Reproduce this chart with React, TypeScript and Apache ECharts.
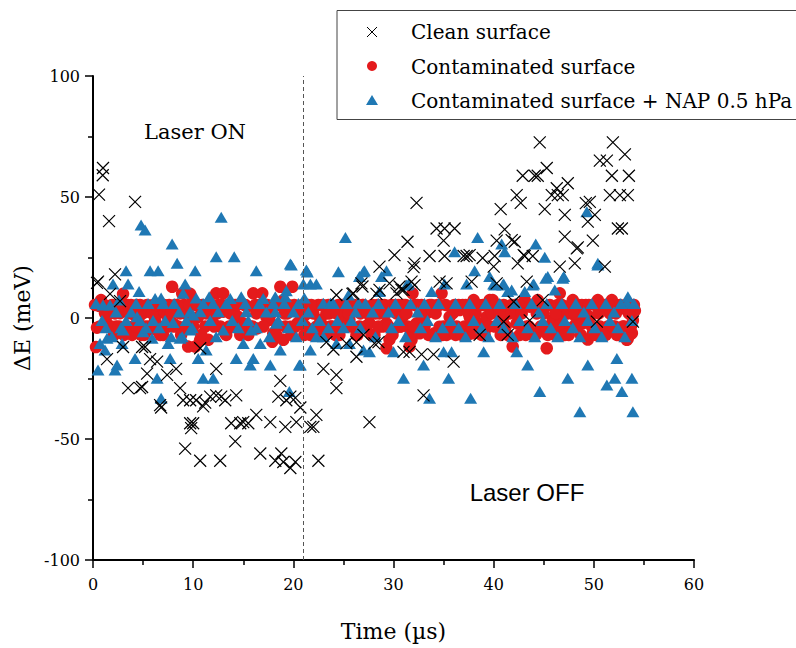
import React, { useEffect, useRef } from "react";
import * as echarts from "echarts";

// ---------- data ----------
const seriesNames = [
  "Clean surface",
  "Contaminated surface",
  "Contaminated surface + NAP 0.5 hPa",
];
const xRange = [0, 60];
const yRange = [-100, 100];
const laserSwitchTime = 21; // µs, dashed vertical line

// [time µs, ΔE meV]
const cleanSurface: number[][] = [
  [0.4, 14.5], [0.5, 15], [0.6, 51], [1.0, 62], [0.97, 59], [1.6, 40], [4.2, 48], [2.2, 18],
  [1.7, 10], [2.7, 7], [3.0, -12], [4.9, -12], [1.4, -17], [5.2, -12], [5.7, -17], [6.4, -18],
  [5.4, -23], [7.4, -23.5], [8.3, -21], [12.3, -21], [3.5, -29], [4.7, -29], [4.9, -28.5],
  [6.7, -36], [6.8, -37], [8.7, -29], [9.0, -34], [9.7, -34], [10.3, -34], [11.0, -36.5],
  [11.2, -35], [11.7, -32.5], [12.3, -32], [12.8, -32.5], [13.2, -34], [14.3, -32],
  [9.7, -43.5], [10.0, -43.5], [9.8, -45.5], [9.2, -54], [10.7, -59], [12.7, -59], [14.2, -51],
  [13.8, -43.5], [14.7, -43.5], [15.0, -43], [15.5, -43.5], [16.3, -40], [17.7, -43], [19.2, -45],
  [18.7, -26], [18.5, -32.5], [19.3, -34], [19.7, -32.5], [20.2, -33], [20.7, -37], [20.3, -43],
  [16.7, -56], [18.2, -59], [18.8, -56], [19.0, -59.5], [19.7, -62], [20.2, -59.5], [21.7, -45],
  [22.0, -45], [22.3, -40], [22.5, -59], [23.0, -21], [24.3, -23.5], [24.3, -29], [25.3, -10.5],
  [25.9, 10], [26.9, 13], [26.3, -16], [27.0, -7], [27.6, -43], [10.7, -12.5], [24.3, 9.5],
  [28.3, 10], [28.6, 11.6], [29.6, 14.3], [23.3, -10], [24.0, -13], [26.3, -10], [26.8, 14.3],
  [26.0, 10.2], [28.5, -10], [30.6, 13], [31.0, 11.6], [30.3, 10.2], [30.1, 26], [32.1, 22.6],
  [28.6, 21.2], [31.4, 31.5], [32.3, 47.6], [34.3, 37], [35.1, 37], [36.1, 37], [35.0, 32],
  [33.6, 25.6], [35.1, 25.6], [37.0, 25.6], [37.3, 25.6], [34.6, 15], [31.8, 15], [37.8, 15],
  [30.8, 11.6], [32.8, -15], [34.0, -15], [36.0, -18], [33.0, -32], [28.1, -10.5], [31.0, -14],
  [31.6, -14], [32.1, 13.6], [35.3, 14.3], [40.3, 14.3], [38.6, -7], [41.0, -1.5], [42.0, 6.7],
  [41.4, -7], [43.6, -1], [44.9, 7.4], [50.3, -1.5], [53.9, -1.5], [40.1, 25.6], [43.1, 25.6],
  [43.9, 25.6], [40.0, 21.2], [42.4, 22.6], [43.0, 26], [37.6, 26], [43.3, 15], [46.6, 21.2],
  [48.1, 22.6], [51.1, 21.2], [40.3, 32], [41.8, 32.2], [42.1, 31.5], [41.1, 36.6], [40.7, 45],
  [45.1, 45], [47.1, 42.6], [50.1, 42.6], [49.4, 39.8], [47.1, 33.6], [49.9, 32], [48.4, 29.2],
  [48.3, 28.8], [52.4, 37], [52.8, 37], [42.3, 50.8], [42.7, 47.6], [45.8, 50.8], [46.4, 50.8],
  [46.9, 50.8], [46.3, 53.6], [47.4, 55.7], [49.6, 48], [49.2, 47.5], [51.6, 50.8], [52.6, 50.8],
  [53.4, 50.8], [42.9, 58.8], [44.1, 58.8], [44.4, 58.8], [45.3, 62], [44.6, 72.6], [51.8, 58.8],
  [53.5, 58.8], [50.6, 65], [51.3, 65], [51.9, 72.6], [53.1, 67.6], [32.0, 21], [38.9, 24.8],
];

const contaminatedSurface: number[][] = [
  [0.3, -12], [0.4, -4], [0.6, 5], [0.8, 7.4], [1.0, -3.5], [1.2, 2], [1.5, -3], [1.7, 2],
  [1.9, 5.4], [2.1, -7], [2.3, -3.5], [2.5, 5.4], [2.7, 2], [2.9, -6.3], [3.0, 10], [3.2, 5.4],
  [3.4, -3.5], [3.6, 2], [3.8, 5.4], [4.0, -3.5], [4.2, 1], [4.4, 5.4], [4.6, 0.5], [4.8, -7],
  [5.0, 2], [5.2, -3.5], [5.4, 5.4], [5.6, 2.6], [5.8, -4.8], [6.0, 5.4], [6.2, -1], [6.4, 2],
  [6.6, -3.5], [6.8, 5.4], [7.0, -7], [7.2, 2], [7.4, 0.9], [7.6, 5.4], [7.9, 12.9], [8.0, -2.2],
  [8.2, 5.4], [8.5, -3.5], [8.7, 1.9], [8.9, 10.2], [9.1, 5.4], [9.3, -3.5], [9.5, -11.8],
  [9.7, 10], [9.9, -2.2], [10.1, 5.4], [10.2, -11.8], [10.5, 0.5], [10.7, -9], [10.9, 5.4],
  [11.0, 4.7], [11.2, -3.5], [11.5, -9], [11.7, 2], [11.9, 5.4], [12.0, -2.2], [12.3, 10.2],
  [12.5, 5.4], [12.7, -3.5], [13.0, 10.2], [13.0, 2.6], [13.2, -6.3], [13.5, 5.4], [13.7, 1.9],
  [14.0, -3.6], [14.2, 5.4], [14.5, 0.5], [14.8, -3.5], [15.0, -2.2], [15.2, 5.4], [15.4, 4.7],
  [15.7, -3.5], [16.0, 10.2], [16.2, 5.4], [16.4, -4.3], [16.7, 2.6], [16.9, 10.2], [17.1, 5.4],
  [17.3, 0.5], [17.6, -0.8], [17.9, -9.8], [18.0, -6.3], [18.2, 5.4], [18.4, -3.5], [18.7, 12.9],
  [19.0, 7.4], [19.0, -9], [19.2, -3.5], [19.4, 1.9], [19.7, -3.6], [19.9, 12.9], [20.1, 5.4],
  [20.4, -2.2], [20.7, 3.3], [20.9, 5.4], [21.0, 0.5], [21.2, -3.5], [21.5, 5.4], [21.7, -7],
  [22.0, 1.9], [22.3, -3.6], [22.5, 5.4], [22.7, -0.8], [23.0, -3.5], [23.3, 1.9], [23.5, 5.4],
  [23.7, -3.5], [24.0, 3.3], [24.2, -7], [24.5, 5.4], [24.7, -3.5], [25.0, 0.5], [25.3, 5.4],
  [25.6, -0.8], [25.8, -3.5], [26.1, 5.4], [26.4, -7], [26.7, 1.9], [26.9, 5.4], [27.2, -3.5],
  [27.6, -2.2], [27.9, 5.4], [28.1, -7], [28.4, 5.4], [28.6, 1.9], [28.9, -3.5], [29.1, 5.4],
  [29.3, -12.5], [29.3, -2.2], [29.6, -8.9], [29.8, 5.4], [30.0, -4.8], [30.3, 1.9], [30.5, 5.4],
  [30.7, -3.5], [30.9, 0.5], [31.2, 5.4], [31.4, -3.5], [31.6, -11.8], [31.8, -9], [31.9, 10.2],
  [32.1, 5.4], [32.3, -2.2], [32.6, -6.3], [32.8, 5.4], [33.0, -2.2], [33.3, 1.9], [33.6, 5.4],
  [33.9, 3.3], [34.1, -6.3], [34.4, 5.4], [34.6, -3.6], [34.8, 10.2], [35.0, -3.5], [35.3, -7],
  [35.6, 0.5], [35.8, -5], [36.1, 5.4], [36.3, -3.5], [36.6, 3.3], [36.9, 5.4], [37.1, -3.5],
  [37.4, -7], [37.6, 0.5], [37.9, 5.4], [38.0, 7.4], [38.0, -6.3], [38.3, -3.5], [38.6, -2.2],
  [38.9, 5.4], [39.1, -7], [39.3, 0.5], [39.6, 7.4], [39.9, 7.4], [40.1, -3.5], [40.4, 5.4],
  [40.7, -7], [40.9, 4.7], [40.9, -0.8], [41.2, -3.5], [41.6, 1.9], [41.9, -11.8], [42.1, 5.4],
  [42.3, -2.2], [42.6, -7], [42.9, -4.8], [43.1, 7.4], [43.3, -3.5], [43.6, 4.7], [43.9, -7],
  [44.3, 1.9], [44.3, -6.3], [44.4, 7.4], [44.7, -3.5], [44.9, 3.3], [45.2, -3.6], [45.3, -12.5],
  [45.6, 5.4], [45.9, -0.8], [46.1, -7], [46.4, 5.4], [46.6, 10.2], [46.6, 0.5], [46.9, -3.5],
  [47.2, 4.7], [47.5, -7], [47.9, 7.4], [48.0, -3.5], [48.2, 0.5], [48.5, 5.4], [48.7, -7],
  [48.9, -2.2], [49.2, 5.4], [49.4, -8.9], [49.6, 0.5], [49.9, -6.3], [50.1, 5.4], [50.4, 7.4],
  [50.6, -3.5], [50.9, -7], [51.1, 5.4], [51.4, -3.5], [51.6, 1.9], [51.8, 7.4], [52.1, -3.5],
  [52.3, -7], [52.6, 5.4], [52.8, 4], [53.0, -3.5], [53.3, -9], [53.4, -8.4], [53.6, 5.4],
  [53.8, -6.3], [53.9, -1], [54.1, 3],
  [0.2, 5.4], [0.7, -3.5], [1.1, 5.4], [1.4, 1], [1.8, -3.5], [2.2, 1.9], [2.6, -3.5], [3.1, -7],
  [3.5, 5.4], [3.9, -7], [4.3, -3.5], [4.7, 5.4], [5.1, -7], [5.5, -3.5], [5.9, 1.9], [6.3, 5.4],
  [6.7, -7], [7.1, 5.4], [7.5, -3.5], [7.8, 1.9], [8.1, -3.5], [8.4, 5.4], [8.8, -7], [9.2, 1.9],
  [9.6, 5.4], [10.0, -3.5], [10.4, 5.4], [10.8, -7], [11.3, 1.9], [11.6, 5.4], [12.1, -3.5],
  [12.4, 1.9], [12.9, 5.4], [13.3, -7], [13.6, -3.5], [14.1, 1.9], [14.4, 5.4], [14.7, -7],
  [15.1, 5.4], [15.5, -7], [15.9, -3.5], [16.3, 1.9], [16.6, 5.4], [17.0, -3.5], [17.4, 5.4],
  [17.8, 1.9], [18.3, -7], [18.6, 5.4], [19.1, 1.9], [19.5, 5.4], [19.8, -7], [20.2, -3.5],
  [20.6, 1.9], [21.1, -7], [21.4, 1.9], [21.8, 5.4], [22.2, -7], [22.6, -3.5], [22.9, 5.4],
  [23.2, -7], [23.6, 1.9], [23.9, -3.5], [24.3, 1.9], [24.6, -7], [24.9, 5.4], [25.2, -3.5],
  [25.5, 1.9], [25.9, 5.4], [26.3, -7], [26.6, -3.5], [27.0, 5.4], [27.4, 1.9], [27.8, -7],
  [28.2, 1.9], [28.5, -3.5], [28.8, 5.4], [29.2, 1.9], [29.5, -3.5], [29.9, -7], [30.2, 5.4],
  [30.6, -3.5], [31.0, 5.4], [31.3, 1.9], [31.7, -7], [32.0, -3.5], [32.4, 5.4], [32.7, 1.9],
  [33.1, -3.5], [33.5, -7], [33.8, 5.4], [34.2, 1.9], [34.6, 5.4], [34.9, -7], [35.2, 5.4],
  [35.5, -3.5], [35.9, 1.9], [36.2, -7], [36.5, 5.4], [36.8, -7], [37.2, 5.4], [37.5, 1.9],
  [37.8, -3.5], [38.2, 1.9], [38.5, 5.4], [38.8, -7], [39.2, 5.4], [39.5, -3.5], [39.8, 1.9],
  [40.2, 5.4], [40.6, 1.9], [41.0, 5.4], [41.4, -7], [41.8, 5.4], [42.2, 1.9], [42.5, 5.4],
  [42.8, 1.9], [43.2, -7], [43.5, -3.5], [43.9, 5.4], [44.2, -7], [44.6, 5.4], [45.0, 1.9],
  [45.4, -7], [45.8, -3.5], [46.2, 1.9], [46.5, -3.5], [46.8, 5.4], [47.1, -7], [47.4, 1.9],
  [47.7, 5.4], [48.1, 1.9], [48.4, -3.5], [48.8, 5.4], [49.1, 1.9], [49.5, 5.4], [49.8, -3.5],
  [50.2, -7], [50.5, 1.9], [50.8, 5.4], [51.2, -7], [51.5, 5.4], [51.9, -3.5], [52.2, 1.9],
  [52.5, -7], [52.9, -3.5], [53.2, 5.4], [53.5, 1.9], [53.7, -3.5], [54.0, 5.4],
];

const napSurface: number[][] = [
  // outliers, early part
  [4.8, 38.4], [5.2, 36.4], [12.8, 41.6], [7.9, 30.6], [8.4, 22.6], [12.3, 25.3], [14.1, 25.3],
  [3.3, 19.5], [5.7, 19.5], [6.5, 19.5], [10.2, 19.5], [16.3, 19.5], [19.7, 22.3], [21.3, 19.8],
  [25.2, 33.3], [24.5, 19.1], [27.0, 19.1], [2.0, 14], [3.5, 14], [9.2, 14], [4.6, 10.9],
  [19.3, 11.3], [21.0, 14], [21.7, 14], [22.3, 14], [1.0, 5.4], [1.7, 5.4], [2.6, 7.4], [6.2, 8.1],
  [7.0, 6], [9.0, 10.2], [11.6, 8.8], [13.7, 8.1], [14.8, 8.8], [17.0, 8.1], [18.2, 8.8],
  [19.2, 8.8], [9.7, 2.6], [10.7, 2.6], [12.5, 2.6], [15.3, 2.6], [18.2, 2.6], [23.0, 6.1],
  [23.7, 6.1], [25.5, 9.5], [26.5, 6.1], [4.4, 0.5], [8.0, -1.9], [10.0, 1.2], [13.0, -5],
  [15.8, -5], [18.3, -2.2], [20.3, -7.7], [3.0, -5], [5.0, -5.7], [5.9, -8.4], [8.9, -7.7],
  [9.7, -5], [0.7, -10.5], [1.4, -8.4], [1.2, -13.2], [2.9, -10.5], [7.5, -10.5], [8.7, -8.4],
  [11.3, -13.2], [15.0, -10.5], [16.7, -10.5], [18.7, -13.2], [21.7, -13.2], [22.3, -7.7],
  [23.0, -7.7], [24.3, -10.5], [25.6, -10.5], [27.0, -13.2], [0.5, -21.5], [2.2, -21.5],
  [2.4, -19.4], [4.2, -16.7], [7.7, -16.7], [10.5, -16.7], [14.3, -16.7], [15.7, -19.4],
  [16.0, -16.7], [17.7, -19.4], [20.6, -19.4], [6.4, -24.9], [11.0, -24.9], [12.0, -24.9],
  [6.8, -33.2], [19.6, -30.4], [20.7, -19.4], [19.8, 21.9], [21.4, 19],
  // outliers, later part
  [49.3, 43.9], [38.4, 33.3], [36.1, 27.4], [40.8, 30.6], [41.1, 27.4], [44.2, 30.6], [45.1, 25.1],
  [50.4, 22.6], [38.1, 19.5], [39.6, 17.1], [45.4, 17.1], [47.0, 17.1], [29.3, 19.5], [27.1, 19.5],
  [31.5, 14], [35.1, 14], [37.3, 14], [40.0, 14], [41.0, 14], [41.8, 11.6], [44.0, 14], [46.1, 11.6],
  [28.8, 17.1], [53.4, 8.8], [53.3, 6.1], [27.6, -13.9], [30.0, -13.9], [35.0, -13.9], [35.8, -13.9],
  [39.0, -13.9], [42.3, -13.9], [33.0, -19.4], [43.4, -19.4], [49.4, -19.4], [52.3, -16.7],
  [31.0, -24.9], [35.5, -24.9], [47.4, -24.9], [51.3, -27.7], [52.1, -24.9], [53.8, -24.9],
  [33.6, -33.2], [37.7, -33.2], [44.6, -30.4], [52.8, -30.4], [48.6, -38.7], [53.9, -38.7],
  [26.6, 17.1], [28.6, 10.9], [31.3, 13.6], [33.8, 10.9], [40.1, 13.6], [40.9, 13.6], [41.4, 10.9],
  [43.1, 10.9], [43.9, 13.6], [45.2, 16.4], [46.9, 16.4], [50.4, 21.9],
  // central band
  [0.3, 6], [0.9, -1], [1.3, -4], [1.9, -7.7], [2.3, 2.5], [2.8, -4], [3.3, -1], [3.8, 2.5],
  [4.3, 6], [4.7, -1], [5.3, -4], [5.5, 6], [6.0, -1], [6.6, -4], [6.8, 8.3], [7.2, -1], [7.8, -7.7],
  [8.1, 6], [8.6, 2.5], [9.3, -1], [9.9, -4], [10.3, 8.3], [11.0, 6], [11.7, -1], [12.0, 6],
  [12.3, -7.7], [13.3, 6], [13.9, -1], [14.5, -4], [15.2, 6], [15.5, -1], [16.3, -4], [16.6, 6],
  [17.3, 2.5], [17.6, -7.7], [18.0, 6], [18.5, -1], [19.1, 6], [19.5, -4], [20.0, 2.5], [20.5, 6],
  [20.9, -1], [21.1, 8.3], [21.5, 2.5], [21.9, -4], [22.6, -1], [23.5, -4], [24.0, 6], [24.4, -1],
  [25.0, -4], [25.3, 6], [25.8, -1], [26.2, 2.5], [26.7, -4], [27.2, 6], [27.9, 2.5], [28.2, -7.7],
  [28.5, 6], [29.5, 2.5], [29.8, -4], [30.2, 6], [30.5, -1], [31.2, -7.7], [31.7, 6], [32.4, 2.5],
  [32.7, -4], [33.1, 6], [33.4, -1], [34.2, -7.7], [34.5, 6], [34.9, -4], [35.7, -1], [36.2, 6],
  [36.5, -4], [37.2, -7.7], [37.6, 6], [38.0, -1], [38.8, -4], [39.2, 6], [39.5, -7.7], [40.3, -1],
  [40.6, 6], [41.0, -4], [41.9, -7.7], [42.2, 6], [42.6, -1], [43.4, -4], [43.8, 6], [44.1, -7.7],
  [44.5, 2.5], [44.9, -1], [45.3, 6], [45.7, -4], [46.4, -7.7], [46.8, 6], [47.1, -1], [47.9, -4],
  [48.2, 6], [48.6, -7.7], [49.0, 2.5], [49.4, -1], [49.8, 6], [50.1, -4], [50.8, -7.7], [51.2, 6],
  [51.6, -1], [52.0, 2.5], [52.4, -4], [52.7, 6], [53.1, -7.7], [53.8, -1], [54.0, 6],
];

// ---------- styling ----------
const SERIF = "'DejaVu Serif', serif";
const SANS = "'Liberation Sans', Arial, sans-serif";
const RED = "#e41a1c";
const BLUE = "#1f78b4";
const CROSS = "path://M0,0L10,10M0,10L10,0";

export default function App() {
  const ref = useRef<HTMLDivElement>(null);

  useEffect(() => {
    if (!ref.current) return;
    const chart = echarts.init(ref.current, undefined, { renderer: "svg" });

    const axisCommon = {
      type: "value" as const,
      nameLocation: "middle" as const,
      nameTextStyle: { fontFamily: SERIF, fontSize: 22, color: "#000" },
      axisLine: { show: true, onZero: false, lineStyle: { color: "#000", width: 2 } },
      axisTick: { show: true, inside: false, length: 8, lineStyle: { color: "#000", width: 1.5 } },
      minorTick: { show: true, splitNumber: 2, length: 5, lineStyle: { color: "#000", width: 1.5 } },
      splitLine: { show: false },
      minorSplitLine: { show: false },
    };

    const legendY = [32, 67, 101];
    const lx = 372;

    const option: any = {
      animation: false,
      backgroundColor: "#fff",
      grid: { left: 93, right: 102, top: 76, bottom: 88 },
      xAxis: {
        ...axisCommon,
        min: xRange[0],
        max: xRange[1],
        interval: 10,
        name: "Time (µs)",
        nameGap: 60,
        axisLabel: { fontFamily: SERIF, fontSize: 16, color: "#000", margin: 16 },
      },
      yAxis: {
        ...axisCommon,
        min: yRange[0],
        max: yRange[1],
        interval: 50,
        name: "ΔE (meV)",
        nameGap: 59,
        axisLabel: { fontFamily: SERIF, fontSize: 16, color: "#000", margin: 13 },
      },
      series: [
        {
          name: seriesNames[1],
          type: "scatter",
          data: contaminatedSurface,
          symbol: "circle",
          symbolSize: 12.5,
          itemStyle: { color: RED, opacity: 1 },
          silent: true,
          z: 2,
          markLine: {
            silent: true,
            symbol: ["none", "none"],
            label: { show: false },
            lineStyle: { type: [4, 3], color: "#555", width: 1 },
            data: [{ xAxis: laserSwitchTime }],
          },
        },
        {
          name: seriesNames[2],
          type: "scatter",
          data: napSurface,
          symbol: "triangle",
          symbolSize: [13, 11],
          itemStyle: { color: BLUE, opacity: 1 },
          silent: true,
          z: 3,
        },
        {
          name: seriesNames[0],
          type: "scatter",
          data: cleanSurface,
          symbol: CROSS,
          symbolSize: 12,
          itemStyle: { color: "rgba(0,0,0,0)", borderColor: "#000", borderWidth: 1.2, opacity: 1 },
          silent: true,
          z: 4,
        },
      ],
      graphic: [
        {
          type: "text",
          x: 195,
          y: 132,
          z: 50,
          style: { text: "Laser ON", fontFamily: SERIF, fontSize: 21, fill: "#000", align: "center", verticalAlign: "middle" },
        },
        {
          type: "text",
          x: 527,
          y: 492,
          z: 50,
          style: { text: "Laser OFF", fontFamily: SANS, fontSize: 24, fill: "#000", align: "center", verticalAlign: "middle" },
        },
        {
          type: "group",
          z: 100,
          children: [
            {
              type: "rect",
              shape: { x: 337, y: 10.5, width: 480, height: 109 },
              style: { fill: "#fff", stroke: "#444", lineWidth: 1 },
            },
            { type: "line", shape: { x1: lx - 5, y1: legendY[0] - 5, x2: lx + 5, y2: legendY[0] + 5 }, style: { stroke: "#000", lineWidth: 1 } },
            { type: "line", shape: { x1: lx - 5, y1: legendY[0] + 5, x2: lx + 5, y2: legendY[0] - 5 }, style: { stroke: "#000", lineWidth: 1 } },
            { type: "circle", shape: { cx: lx, cy: legendY[1] - 1, r: 5 }, style: { fill: RED } },
            {
              type: "polygon",
              shape: { points: [[lx - 6, legendY[2] + 4], [lx + 6, legendY[2] + 4], [lx, legendY[2] - 6]] },
              style: { fill: BLUE },
            },
            ...seriesNames.map((n, i) => ({
              type: "text",
              x: 411,
              y: legendY[i],
              style: { text: n, fontFamily: SERIF, fontSize: 20, fill: "#000", align: "left", verticalAlign: "middle" },
            })),
          ],
        },
      ],
    };

    chart.setOption(option);
    return () => chart.dispose();
  }, []);

  return (
    <div
      ref={ref}
      style={{ position: "absolute", left: 0, top: 0, width: 796, height: 648 }}
    />
  );
}
